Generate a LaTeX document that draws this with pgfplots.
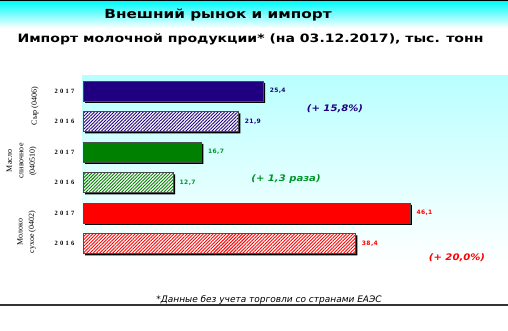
\documentclass[border=0pt]{standalone}
\usepackage{pgfplots}
\pgfplotsset{compat=1.18}
\usetikzlibrary{patterns.meta}
\usepackage{fontspec}
\setmainfont{DejaVu Sans}
\newfontfamily\serifcat{Liberation Serif}
\newfontfamily\yearfont[LetterSpace=35]{Liberation Serif}
\newfontfamily\titlefont[FakeStretch=1.22]{DejaVu Sans}
\newfontfamily\subtitlefont[FakeStretch=1.22]{DejaVu Sans}
\newfontfamily\annfont[FakeStretch=1.12]{DejaVu Sans}
\newfontfamily\valfont[LetterSpace=6]{DejaVu Sans}
\definecolor{cnavy}{RGB}{32,0,128}
\definecolor{cgreen}{RGB}{0,128,0}
\definecolor{cred}{RGB}{255,0,0}
\definecolor{bgcyan}{RGB}{185,255,255}
\definecolor{topcyan}{RGB}{0,250,250}
\definecolor{lgreen}{RGB}{0,150,40}
\begin{document}
\begin{tikzpicture}
\path[use as bounding box] (0pt,0pt) rectangle (508pt,330pt);
\fill[white] (0pt,0pt) rectangle (508pt,330pt);
\shade[top color=topcyan, bottom color=white] (0pt,302pt) rectangle (508pt,329pt);
\fill[black] (0pt,329pt) rectangle (508pt,330pt);
\node[font=\titlefont\bfseries\fontsize{12.5}{15}\selectfont, anchor=base] at (218pt,311pt) {Внешний рынок и импорт};
\node[font=\subtitlefont\bfseries\fontsize{11.5}{13}\selectfont, anchor=base] at (250.5pt,287pt) {Импорт молочной продукции* (на 03.12.2017), тыс. тонн};
\begin{axis}[
  at={(82pt,68pt)}, anchor=south west,
  scale only axis, width=426pt, height=186pt,
  xmin=-0.15, xmax=59.93, ymin=-0.607, ymax=5.49,
  axis background/.style={shade, top color=bgcyan, bottom color=white},
  axis line style={draw=none},
  xtick=\empty,
  ytick={0,1,2,3,4,5},
  yticklabels={2016,2017,2016,2017,2016,2017},
  yticklabel style={font=\yearfont\bfseries\fontsize{6.5}{7}\selectfont, xshift=-4pt},
  major tick length=0pt,
  xbar, bar width=20pt, bar shift=0pt,
  /pgf/number format/assume math mode=true,
  /pgf/number format/use comma, /pgf/number format/fixed,
  /pgf/number format/fixed zerofill, /pgf/number format/precision=1,
  nodes near coords style={font=\valfont\bfseries\fontsize{6}{7}\selectfont, anchor=west, xshift=3pt},
  clip=false,
]
% shadows
\addplot[fill=black, draw=none, xshift=2pt, yshift=-2pt] coordinates {(25.4,5) (21.9,4) (16.7,3) (12.7,2) (46.1,1) (38.4,0)};
% bars
\addplot[fill=cnavy, draw=black!70, line width=0.5pt,
  nodes near coords, every node near coord/.append style={text=cnavy}]
  coordinates {(25.4,5)};
\addplot[fill=white, draw=black!70, line width=0.5pt,
  postaction={pattern={Lines[angle=45,distance=2.3pt,line width=0.9pt]}, pattern color=cnavy},
  nodes near coords, every node near coord/.append style={text=cnavy}]
  coordinates {(21.9,4)};
\addplot[fill=cgreen, draw=black!70, line width=0.5pt,
  nodes near coords, every node near coord/.append style={text=lgreen}]
  coordinates {(16.7,3)};
\addplot[fill=white, draw=black!70, line width=0.5pt,
  postaction={pattern={Lines[angle=45,distance=2.3pt,line width=1pt]}, pattern color=cgreen},
  nodes near coords, every node near coord/.append style={text=lgreen}]
  coordinates {(12.7,2)};
\addplot[fill=cred, draw=black!70, line width=0.5pt,
  nodes near coords, every node near coord/.append style={text=cred}]
  coordinates {(46.1,1)};
\addplot[fill=white, draw=black!70, line width=0.5pt,
  postaction={pattern={Lines[angle=45,distance=2.3pt,line width=0.9pt]}, pattern color=cred},
  nodes near coords, every node near coord/.append style={text=cred}]
  coordinates {(38.4,0)};
\end{axis}
% category labels
\node[rotate=90, align=center, font=\serifcat\fontsize{8}{11.5}\selectfont] at (35pt,224pt) {Сыр (0406)};
\node[rotate=90, align=center, font=\serifcat\fontsize{8}{11.5}\selectfont] at (21.5pt,169pt) {Масло\\сливочное\\(040510)};
\node[rotate=90, align=center, font=\serifcat\fontsize{8}{11.5}\selectfont] at (26.5pt,98pt) {Молоко\\сухое (0402)};
% annotations
\node[font=\annfont\bfseries\itshape\fontsize{9}{10}\selectfont, text=cnavy] at (335pt,221pt) {(+ 15,8\%)};
\node[font=\annfont\bfseries\itshape\fontsize{9}{10}\selectfont, text=lgreen] at (286pt,151pt) {(+ 1,3 раза)};
\node[font=\annfont\bfseries\itshape\fontsize{9}{10}\selectfont, text=cred] at (457pt,72pt) {(+ 20,0\%)};
% footnote
\node[font=\itshape\fontsize{9}{10}\selectfont, anchor=base] at (269pt,28pt) {*Данные без учета торговли со странами ЕАЭС};
\draw[black!80, line width=1.5pt] (0pt,25pt) -- (508pt,25pt);
\end{tikzpicture}
\end{document}
